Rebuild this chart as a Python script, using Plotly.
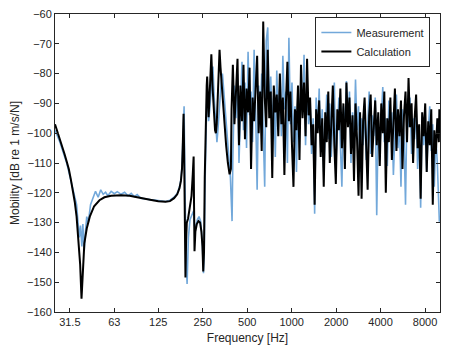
import plotly.graph_objects as go

# ---- low-frequency part ----
calc_freq_low = [25, 26, 27, 28, 29, 30, 31, 32, 33, 34, 35, 36, 37, 37.8, 38.5, 39.5, 41, 43, 46, 50,
                 54, 60, 70, 80, 90, 100, 110, 125, 140, 150, 160, 168, 174, 178, 181, 183, 184.5,
                 185.5, 187, 189, 191, 193, 195, 199, 205, 210, 214, 217, 218.5, 220, 223, 228, 234,
                 240, 245, 249, 252, 255, 258, 262, 266, 268, 270, 274, 279, 286, 291, 297, 303, 307,
                 311, 316, 320, 325, 330, 340, 350, 360, 370, 380, 388, 392]
calc_db_low = [-97, -99.5, -102, -104.5, -107, -109.5, -112, -115.5, -119, -123, -128, -135, -144, -155.5,
               -145, -137, -132, -128, -124.5, -122.5, -121.5, -121, -120.8, -121, -121.5, -122, -122.3,
               -122.8, -123, -122.8, -121.8, -120.5, -118.5, -116, -112, -105, -96, -93.5, -105, -125,
               -148.4, -136, -130, -128.6, -125, -121, -114, -107.8, -125, -139.6, -133, -130.5, -129.5,
               -130, -133, -138, -146.4, -140, -115, -95, -84, -81, -90, -94.6, -86, -73.5, -84, -94,
               -99, -100, -97, -88, -79, -72, -78, -88, -96, -104, -110, -113.8, -112, -92]

meas_freq_low = [25, 26, 27, 28, 29, 30, 31, 32, 33, 34, 35, 35.8, 36.5, 37.2, 38, 38.6, 39.4, 40.2, 41,
                 42, 43.5, 45, 47, 49, 51, 53, 55, 57, 60, 63, 66, 70, 74, 78, 82, 86, 90, 95, 100, 110,
                 125, 140, 150, 160, 168, 174, 178, 181, 183, 185, 187, 189, 191, 193, 196, 200, 205,
                 212, 217, 220, 225, 230, 236, 242, 248, 253, 256, 259, 262, 266, 270, 274, 279, 285,
                 293, 299, 306, 312, 318, 325, 333, 340, 346, 355, 365, 375, 385, 392, 395]
meas_db_low = [-99, -101, -103, -105.5, -107.5, -110, -113, -116, -119, -121, -124, -130, -135, -131,
               -138, -130.5, -139.6, -133, -128, -130, -124, -122, -119.5, -121.5, -119, -120.5, -119.8,
               -121, -119.5, -120.3, -119.6, -120.5, -119.8, -121, -120.2, -121.3, -120.6, -121.8, -122,
               -122.3, -122.6, -122.9, -122.5, -121.5, -120.2, -118, -115.5, -111, -104, -95, -91, -112,
               -135, -143, -150.6, -135, -129, -127, -126, -131, -131, -129, -128, -129.5, -136, -147,
               -140, -118, -98, -90, -86, -96, -92, -85, -77.6, -88, -98, -103, -98, -90, -83, -80, -85,
               -93, -101, -108, -115, -125, -129.5]

# ---- high-frequency part (shared frequency points) ----
freq_high = [400, 410, 420, 430, 440, 450, 461, 472, 483, 495, 507, 519, 531, 544, 557, 570, 584, 598,
             612, 627, 642, 657, 673, 689, 705, 722, 739, 757, 775, 793, 812, 832, 852, 872, 893, 914,
             936, 958, 981, 1005, 1029, 1053, 1078, 1104, 1130, 1157, 1185, 1213, 1242, 1272, 1302,
             1333, 1365, 1398, 1431, 1465, 1500, 1536, 1573, 1610, 1649, 1688, 1728, 1770, 1812, 1855,
             1900, 1945, 1991, 2039, 2088, 2137, 2188, 2241, 2294, 2349, 2405, 2463, 2521, 2582, 2643,
             2706, 2771, 2837, 2905, 2975, 3046, 3118, 3193, 3269, 3347, 3427, 3509, 3593, 3679, 3767,
             3857, 3949, 4043, 4140, 4239, 4340, 4444, 4550, 4659, 4770, 4884, 5001, 5120, 5243, 5368,
             5496, 5627, 5762, 5900, 6041, 6185, 6333, 6484, 6639, 6798, 6960, 7127, 7297, 7471, 7650,
             7833, 8020, 8211, 8407, 8608, 8814, 9024, 9240, 9461, 9687, 9918, 10000]

calc_db_high = [-77, -97, -86, -75, -104, -84, -96, -77, -102, -85, -93, -78, -112, -88, -96, -83, -74,
                -100, -86, -106, -62.5, -88, -98, -72, -95, -86, -115, -84, -93, -87, -101, -80, -97, -88,
                -114, -90, -76, -96, -86, -104, -118, -92, -99, -84, -109, -77, -95, -83, -101, -75, -94,
                -88, -104, -97, -124, -92, -100, -89, -108, -95, -118, -93, -103, -86, -110, -97, -84,
                -104, -117, -92, -99, -85, -105, -90, -112, -83, -98, -88, -107, -94, -116, -90, -102,
                -121, -93, -122, -96, -88, -105, -119, -94, -87, -108, -97, -89, -104, -93, -111, -90,
                -100, -86, -120, -95, -103, -88, -109, -96, -85, -106, -92, -101, -89, -112, -94, -86,
                -103, -81.5, -98, -90, -110, -95, -87, -105, -97, -122, -93, -101, -90, -113, -96, -104,
                -92, -124, -99, -107, -95, -103, -92]

meas_db_high = [-108, -84, -95, -80, -110, -90, -76, -99, -83, -105, -72.7, -94, -86, -103, -72, -92,
                -119, -84, -96, -80, -102, -118, -69, -64.5, -93, -81, -98, -87, -108, -79, -95, -84,
                -101, -74, -92, -86, -110, -68, -97, -83, -103, -91, -113, -86, -98, -80, -94, -73.7,
                -104, -84, -97, -90, -107, -95, -127, -88, -99, -85, -105, -92, -113, -96, -87, -102,
                -90, -108, -94, -83, -111, -97, -88, -104, -118, -91, -100, -82.5, -96, -86, -110, -93,
                -104, -82, -99, -91, -113, -95, -104, -90, -109, -98, -86, -107, -94, -101, -88, -127.5,
                -96, -106, -92, -84.5, -103, -95, -111, -89, -99, -93, -114, -97, -87, -105, -96, -118,
                -92, -101, -124, -90, -98, -88, -107, -95, -102, -91, -112, -99, -125, -94, -104, -96,
                -113, -99, -91, -106, -97, -118, -101, -110, -122, -129.7]

meas_freq = meas_freq_low + freq_high
meas_db = meas_db_low + meas_db_high
calc_freq = calc_freq_low + freq_high
calc_db = calc_db_low + calc_db_high

x_tick_vals = [31.5, 63, 125, 250, 500, 1000, 2000, 4000, 8000]
x_tick_text = ["31.5", "63", "125", "250", "500", "1000", "2000", "4000", "8000"]
y_tick_vals = [-160, -150, -140, -130, -120, -110, -100, -90, -80, -70, -60]

axis_color = "#262626"
font_family = "Liberation Sans, Arial, sans-serif"

fig = go.Figure()
fig.add_trace(go.Scatter(x=meas_freq, y=meas_db, mode="lines", name="Measurement",
                         line=dict(color="#72A8DA", width=1.6)))
fig.add_trace(go.Scatter(x=calc_freq, y=calc_db, mode="lines", name="Calculation",
                         line=dict(color="#000000", width=2)))

fig.update_layout(
    width=452, height=352,
    margin=dict(l=55, r=12, t=8, b=40),
    paper_bgcolor="white", plot_bgcolor="white",
    font=dict(family=font_family, size=11, color=axis_color),
    showlegend=True,
    legend=dict(x=0.975, y=0.99, xanchor="right", yanchor="top",
                bgcolor="white", bordercolor=axis_color, borderwidth=1,
                font=dict(size=11, color=axis_color),
                tracegroupgap=0, itemwidth=30),
)
fig.update_xaxes(
    type="log", range=[1.39794, 4.0043],
    tickmode="array", tickvals=x_tick_vals, ticktext=x_tick_text,
    ticks="inside", ticklen=4, tickcolor=axis_color,
    showline=True, linecolor=axis_color, linewidth=1, mirror="allticks",
    showgrid=False, zeroline=False,
    title=dict(text="Frequency [Hz]", font=dict(size=12, color=axis_color), standoff=6),
    tickfont=dict(size=11, color=axis_color),
)
fig.update_yaxes(
    range=[-160, -60],
    tickmode="array", tickvals=y_tick_vals,
    ticks="inside", ticklen=4, tickcolor=axis_color,
    showline=True, linecolor=axis_color, linewidth=1, mirror="allticks",
    showgrid=False, zeroline=False,
    title=dict(text="Mobility [dB re 1 m/s/N]", font=dict(size=12, color=axis_color), standoff=4),
    tickfont=dict(size=11, color=axis_color),
)

fig.write_html("out.html")
